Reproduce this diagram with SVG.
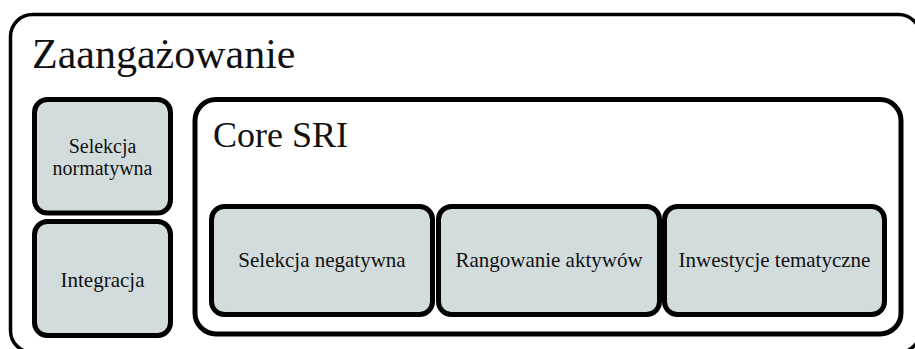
<svg xmlns="http://www.w3.org/2000/svg" width="915" height="349" viewBox="0 0 915 349">
<style>
.frame{fill:#ffffff;stroke:#000000}
.box{fill:#d3dcdc;stroke:#000000;stroke-width:5}
.t{font-family:"Liberation Serif","Times New Roman",serif;fill:#111111;text-anchor:middle}
.title{font-family:"Liberation Serif","Times New Roman",serif;fill:#111111}
</style>
<rect width="915" height="349" fill="#ffffff"/>
<g id="zaangazowanie">
<rect class="frame" x="10.5" y="14.5" width="910" height="338" rx="22" stroke-width="3.5"/>
<text class="title" x="32" y="68" font-size="42">Zaangażowanie</text>
</g>
<g id="selekcja-normatywna">
<rect class="box" x="34.5" y="99.5" width="136" height="113.5" rx="13"/>
<text class="t" x="102.5" y="152.5" font-size="20">Selekcja</text>
<text class="t" x="102.5" y="175" font-size="20">normatywna</text>
</g>
<g id="integracja">
<rect class="box" x="34.5" y="221.5" width="136" height="114" rx="13"/>
<text class="t" x="102.5" y="287" font-size="21">Integracja</text>
</g>
<g id="core-sri">
<rect class="frame" x="195" y="99.5" width="706" height="234.5" rx="21" stroke-width="5"/>
<text class="title" x="213" y="147" font-size="36">Core SRI</text>
</g>
<g id="selekcja-negatywna">
<rect class="box" x="211.5" y="206.5" width="221" height="108" rx="13"/>
<text class="t" x="322" y="267" font-size="21">Selekcja negatywna</text>
</g>
<g id="rangowanie-aktywow">
<rect class="box" x="438.5" y="206.5" width="221" height="108" rx="13"/>
<text class="t" x="549" y="267" font-size="21">Rangowanie aktywów</text>
</g>
<g id="inwestycje-tematyczne">
<rect class="box" x="664.5" y="206.5" width="220" height="108" rx="13"/>
<text class="t" x="774.5" y="267" font-size="21">Inwestycje tematyczne</text>
</g>
<g id="connectors"></g>
</svg>
